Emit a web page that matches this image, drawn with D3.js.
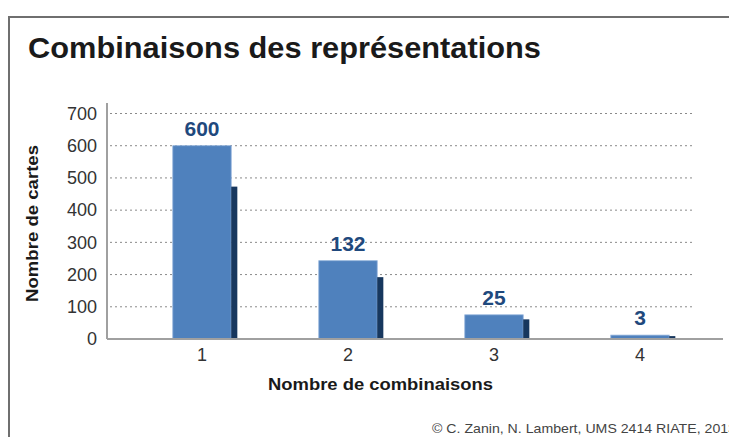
<!DOCTYPE html>
<html>
<head>
<meta charset="utf-8">
<script src="https://cdn.jsdelivr.net/npm/d3@7"></script>
<style>
  html, body { margin: 0; padding: 0; background: #fff; }
  svg { display: block; font-family: "Liberation Sans", Arial, sans-serif; }
</style>
</head>
<body>
<svg id="chart" width="729" height="437"></svg>
<script>
// Nombre de combinaisons (catégories de l'axe horizontal)
const categories = ["1", "2", "3", "4"];
// Série principale (barres claires)
const mainValues = [600, 243, 75, 12];
// Série secondaire (barres foncées)
const secondValues = [473, 192, 61, 9];
// Étiquettes affichées au-dessus des barres
const barLabels = ["600", "132", "25", "3"];
// Graduations de l'axe vertical
const yTicks = [0, 100, 200, 300, 400, 500, 600, 700];

const svg = d3.select("#chart");

// Cadre
svg.append("path")
  .attr("d", "M9,437 L9,17 L729,17")
  .attr("fill", "none")
  .attr("stroke", "#6f6f6f")
  .attr("stroke-width", 2);

// Titre
svg.append("text")
  .attr("x", 28).attr("y", 58)
  .attr("font-size", 30).attr("font-weight", "bold")
  .attr("fill", "#1a1a1a")
  .attr("textLength", 513).attr("lengthAdjust", "spacingAndGlyphs")
  .text("Combinaisons des représentations");

const x = d3.scaleBand().domain(categories).range([129, 713]).padding(0);
const y = d3.scaleLinear().domain([0, 700]).range([339, 113.5]);
const bw = x.bandwidth();

// Quadrillage pointillé
svg.append("g")
  .selectAll("line")
  .data(yTicks.filter(d => d > 0))
  .join("line")
  .attr("x1", 110).attr("x2", 695)
  .attr("y1", d => y(d)).attr("y2", d => y(d))
  .attr("stroke", "#8a8a8a")
  .attr("stroke-width", 1)
  .attr("stroke-dasharray", "2,3");

// Axe vertical
const yAxis = svg.append("g")
  .attr("transform", "translate(107,0)")
  .call(d3.axisLeft(y).tickValues(yTicks).tickSize(0).tickPadding(10));
yAxis.select(".domain").remove();
yAxis.selectAll("text")
  .attr("font-size", 18)
  .attr("font-family", "Liberation Sans, Arial, sans-serif")
  .attr("fill", "#333");
svg.append("line")
  .attr("x1", 107).attr("x2", 107)
  .attr("y1", 103).attr("y2", 339)
  .attr("stroke", "#a0a0a0").attr("stroke-width", 2);

// Barres claires
svg.append("g")
  .selectAll("rect")
  .data(categories)
  .join("rect")
  .attr("x", d => x(d) + bw * 0.3)
  .attr("width", bw * 0.4)
  .attr("y", (d, i) => y(mainValues[i]))
  .attr("height", (d, i) => y(0) - y(mainValues[i]))
  .attr("fill", "#4f81bd")
  .attr("stroke", "#8fb0da")
  .attr("stroke-width", 0.8);

// Barres foncées
svg.append("g")
  .selectAll("rect")
  .data(categories)
  .join("rect")
  .attr("x", d => x(d) + bw * 0.7)
  .attr("width", bw * 0.042)
  .attr("y", (d, i) => y(secondValues[i]))
  .attr("height", (d, i) => y(0) - y(secondValues[i]))
  .attr("fill", "#17375e");

// Ligne de base
svg.append("line")
  .attr("x1", 107).attr("x2", 723)
  .attr("y1", 339).attr("y2", 339)
  .attr("stroke", "#a0a0a0").attr("stroke-width", 2);

// Étiquettes des barres
svg.append("g")
  .selectAll("text")
  .data(categories)
  .join("text")
  .attr("x", d => x(d) + bw / 2)
  .attr("y", (d, i) => y(mainValues[i]) - 10)
  .attr("text-anchor", "middle")
  .attr("font-size", 21).attr("font-weight", "bold")
  .attr("fill", "#1f497d")
  .text((d, i) => barLabels[i]);

// Axe horizontal
const xAxis = svg.append("g")
  .attr("transform", "translate(0,339)")
  .call(d3.axisBottom(x).tickSize(0).tickPadding(9));
xAxis.select(".domain").remove();
xAxis.selectAll("text")
  .attr("font-size", 18)
  .attr("font-family", "Liberation Sans, Arial, sans-serif")
  .attr("fill", "#333");

// Titres des axes
svg.append("text")
  .attr("x", 268).attr("y", 390)
  .attr("font-size", 17).attr("font-weight", "bold")
  .attr("fill", "#1a1a1a")
  .attr("textLength", 225).attr("lengthAdjust", "spacingAndGlyphs")
  .text("Nombre de combinaisons");

svg.append("text")
  .attr("transform", "translate(38,302) rotate(-90)")
  .attr("font-size", 17).attr("font-weight", "bold")
  .attr("fill", "#1a1a1a")
  .attr("textLength", 157).attr("lengthAdjust", "spacingAndGlyphs")
  .text("Nombre de cartes");

// Source
svg.append("text")
  .attr("x", 432).attr("y", 433)
  .attr("font-size", 13)
  .attr("fill", "#444")
  .attr("textLength", 304).attr("lengthAdjust", "spacingAndGlyphs")
  .text("© C. Zanin, N. Lambert, UMS 2414 RIATE,  2013");
</script>
</body>
</html>
